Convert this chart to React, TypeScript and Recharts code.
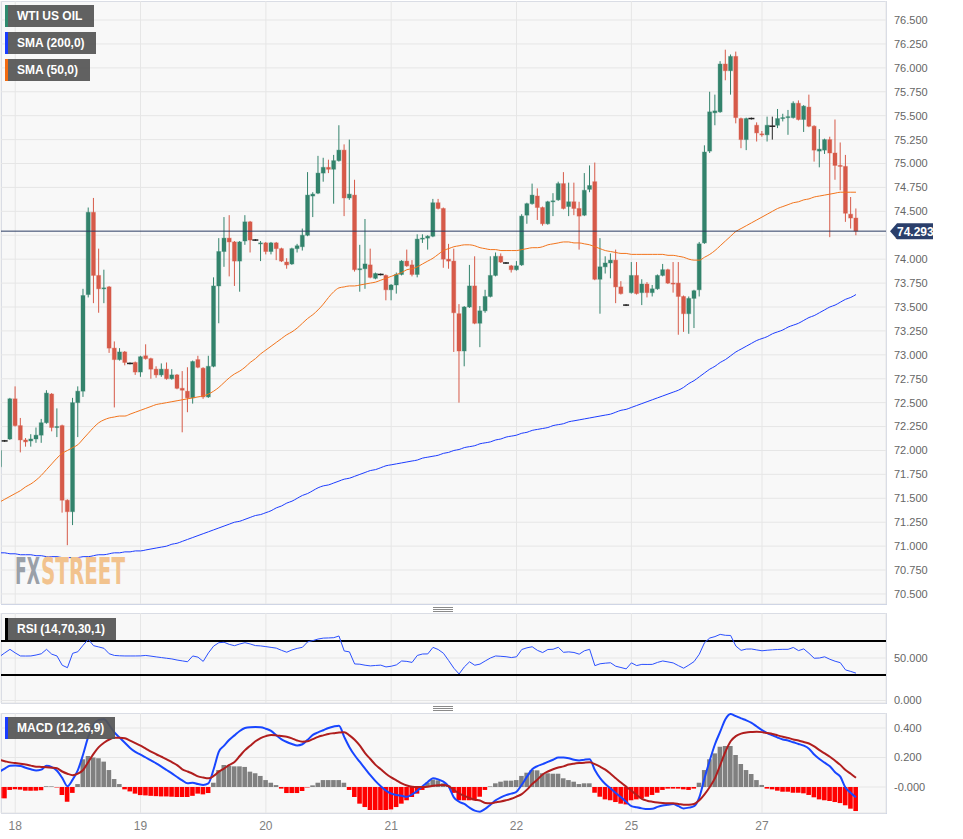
import React from 'react';
import { ComposedChart, Bar, Line, XAxis, YAxis, CartesianGrid, ReferenceLine, Cell } from 'recharts';

// hourly candles, index 0..164
const OPEN = [
  71.83, 72.10, 72.12, 72.54, 72.26, 72.11, 72.10, 72.12, 72.16, 72.29,
  72.59, 72.24, 72.26, 71.48, 71.36, 72.50, 72.62, 73.63, 74.49, 73.83,
  73.69, 73.71, 73.07, 72.95, 73.03, 72.91, 72.92, 72.82, 72.99, 72.96,
  72.85, 72.79, 72.85, 72.75, 72.79, 72.65, 72.62, 72.55, 72.95, 72.86,
  72.56, 72.88, 73.72, 74.08, 74.22, 74.18, 73.98, 74.19, 74.39, 74.20,
  74.16, 74.17, 74.08, 74.17, 74.11, 73.97, 73.95, 74.11, 74.13, 74.25,
  74.66, 74.69, 74.90, 74.96, 74.94, 75.03, 75.14, 74.64, 74.67, 73.89,
  73.90, 73.94, 73.80, 73.84, 73.83, 73.68, 73.73, 73.84, 73.98, 73.94,
  73.84, 74.21, 74.22, 74.24, 74.59, 74.53, 74.00, 73.98, 73.43, 73.04,
  73.50, 73.72, 73.33, 73.46, 73.61, 73.83, 74.03, 73.96, 73.93, 73.89,
  73.94, 74.46, 74.58, 74.66, 74.54, 74.37, 74.60, 74.62, 74.79, 74.55,
  74.60, 74.53, 74.46, 74.73, 74.81, 73.79, 73.92, 73.96, 73.99, 73.71,
  73.52, 73.65, 73.83, 73.65, 73.74, 73.65, 73.69, 73.83, 73.89, 73.75,
  73.75, 73.61, 73.43, 73.59, 73.68, 74.17, 75.13, 75.53, 75.54, 76.04,
  75.97, 76.12, 75.47, 75.25, 75.47, 75.40, 75.31, 75.30, 75.39, 75.40,
  75.47, 75.48, 75.48, 75.63, 75.46, 75.59, 75.39, 75.13, 75.14, 75.25,
  75.11, 74.98, 74.97, 74.47, 74.43,
];
const HIGH = [
  72.04, 72.11, 72.55, 72.67, 72.34, 72.13, 72.17, 72.24, 72.33, 72.63,
  72.60, 72.44, 72.27, 71.49, 72.55, 72.67, 73.69, 74.54, 74.64, 74.11,
  73.89, 73.72, 73.14, 73.07, 73.04, 72.92, 72.93, 72.99, 73.11, 72.97,
  72.88, 72.91, 72.92, 72.85, 72.80, 72.83, 72.87, 72.94, 72.99, 72.87,
  72.99, 73.81, 74.22, 74.44, 74.46, 74.19, 74.19, 74.46, 74.40, 74.21,
  74.19, 74.18, 74.18, 74.18, 74.12, 74.01, 74.12, 74.16, 74.32, 74.91,
  74.70, 75.08, 75.06, 75.04, 75.09, 75.40, 75.20, 75.25, 74.83, 74.15,
  74.42, 74.11, 73.86, 73.85, 73.84, 73.74, 73.86, 73.99, 74.10, 73.99,
  74.26, 74.26, 74.25, 74.63, 74.63, 74.54, 74.16, 74.11, 73.53, 73.51,
  73.94, 74.03, 73.51, 73.68, 74.03, 74.07, 74.06, 73.97, 73.94, 73.98,
  74.47, 74.59, 74.79, 74.74, 74.55, 74.61, 74.69, 74.81, 74.91, 74.80,
  74.80, 74.60, 74.90, 74.98, 75.01, 74.22, 74.03, 74.06, 74.10, 73.77,
  73.53, 73.97, 73.97, 73.79, 73.76, 73.73, 73.84, 73.95, 73.90, 73.97,
  73.97, 73.62, 73.61, 73.68, 74.18, 75.19, 75.75, 75.72, 76.07, 76.19,
  76.14, 76.17, 75.48, 75.48, 75.48, 75.43, 75.34, 75.49, 75.49, 75.57,
  75.52, 75.56, 75.65, 75.66, 75.61, 75.72, 75.40, 75.36, 75.26, 75.28,
  75.46, 75.22, 75.09, 74.65, 74.53,
];
const LOW = [
  71.74, 72.09, 72.11, 72.25, 71.98, 72.04, 72.04, 72.08, 72.08, 72.28,
  72.20, 72.14, 71.35, 71.01, 71.22, 72.14, 72.56, 73.60, 73.54, 73.44,
  73.54, 73.02, 72.45, 72.94, 72.89, 72.90, 72.79, 72.77, 72.95, 72.75,
  72.76, 72.77, 72.74, 72.74, 72.64, 72.19, 72.40, 72.49, 72.86, 72.54,
  72.55, 72.87, 73.33, 73.92, 73.82, 73.72, 73.66, 74.15, 74.07, 74.19,
  73.98, 74.05, 74.05, 73.99, 73.97, 73.90, 73.94, 74.07, 74.09, 74.24,
  74.44, 74.68, 74.81, 74.90, 74.58, 75.02, 74.45, 74.62, 73.87, 73.66,
  73.69, 73.80, 73.79, 73.83, 73.57, 73.57, 73.64, 73.83, 73.92, 73.82,
  73.81, 74.17, 74.10, 74.23, 74.52, 73.91, 73.90, 73.03, 72.50, 72.88,
  73.49, 73.32, 73.08, 73.44, 73.60, 73.82, 73.96, 73.95, 73.86, 73.88,
  73.93, 74.37, 74.57, 74.41, 74.35, 74.36, 74.45, 74.61, 74.52, 74.45,
  74.46, 74.10, 74.45, 74.70, 73.78, 73.43, 73.85, 73.80, 73.54, 73.63,
  73.51, 73.64, 73.63, 73.52, 73.60, 73.61, 73.68, 73.82, 73.74, 73.65,
  73.21, 73.24, 73.22, 73.28, 73.61, 74.16, 75.11, 75.40, 75.53, 75.87,
  75.72, 75.42, 75.16, 75.14, 75.46, 75.23, 75.28, 75.23, 75.25, 75.37,
  75.44, 75.30, 75.47, 75.45, 75.33, 75.38, 75.02, 74.96, 75.10, 74.23,
  74.83, 74.72, 74.39, 74.32, 74.25,
];
const CLOSE = [
  72.00, 72.10, 72.54, 72.26, 72.11, 72.09, 72.12, 72.16, 72.29, 72.60,
  72.24, 72.25, 71.48, 71.36, 72.50, 72.62, 73.62, 74.49, 73.83, 73.69,
  73.70, 73.07, 72.95, 73.03, 72.92, 72.91, 72.82, 72.98, 72.96, 72.85,
  72.79, 72.85, 72.75, 72.79, 72.65, 72.63, 72.55, 72.93, 72.87, 72.56,
  72.88, 73.72, 74.08, 74.22, 74.18, 73.98, 74.18, 74.39, 74.20, 74.20,
  74.17, 74.08, 74.17, 74.11, 73.98, 73.94, 74.11, 74.14, 74.25, 74.67,
  74.68, 74.90, 74.96, 74.94, 75.03, 75.14, 74.64, 74.68, 73.89, 73.90,
  73.95, 73.81, 73.85, 73.84, 73.68, 73.73, 73.84, 73.98, 73.93, 73.84,
  74.21, 74.22, 74.24, 74.59, 74.53, 74.00, 73.98, 73.44, 73.04, 73.50,
  73.72, 73.33, 73.46, 73.61, 73.83, 74.03, 73.97, 73.96, 73.89, 73.93,
  74.45, 74.58, 74.67, 74.54, 74.37, 74.60, 74.61, 74.79, 74.53, 74.60,
  74.53, 74.45, 74.72, 74.77, 73.79, 73.92, 73.96, 73.99, 73.71, 73.64,
  73.52, 73.83, 73.64, 73.74, 73.65, 73.69, 73.83, 73.89, 73.75, 73.74,
  73.61, 73.43, 73.59, 73.67, 74.16, 75.12, 75.54, 75.55, 76.04, 75.97,
  76.12, 75.48, 75.25, 75.47, 75.47, 75.32, 75.30, 75.40, 75.39, 75.47,
  75.48, 75.49, 75.63, 75.46, 75.60, 75.39, 75.14, 75.15, 75.25, 75.11,
  74.98, 74.97, 74.48, 74.43, 74.293,
];
const SMA50 = [
  71.46, 71.49, 71.52, 71.55, 71.58, 71.62, 71.65, 71.69, 71.74, 71.80,
  71.86, 71.92, 71.97, 72.00, 72.03, 72.06, 72.12, 72.18, 72.24, 72.29,
  72.32, 72.34, 72.35, 72.36, 72.36, 72.38, 72.40, 72.42, 72.44, 72.46,
  72.48, 72.49, 72.50, 72.51, 72.52, 72.53, 72.54, 72.55, 72.56, 72.57,
  72.59, 72.62, 72.66, 72.71, 72.76, 72.80, 72.83, 72.87, 72.92, 72.96,
  73.01, 73.05, 73.09, 73.13, 73.17, 73.21, 73.24, 73.28, 73.33, 73.38,
  73.42, 73.47, 73.53, 73.60, 73.66, 73.70, 73.71, 73.72, 73.72, 73.73,
  73.74, 73.75, 73.76, 73.78, 73.80, 73.82, 73.84, 73.86, 73.89, 73.90,
  73.92, 73.95, 73.98, 74.01, 74.05, 74.09, 74.11, 74.13, 74.14, 74.15,
  74.15, 74.14, 74.12, 74.11, 74.10, 74.10, 74.09, 74.09, 74.09, 74.09,
  74.10, 74.11, 74.12, 74.12, 74.13, 74.15, 74.16, 74.17, 74.18, 74.18,
  74.17, 74.17, 74.16, 74.15, 74.13, 74.11, 74.09, 74.08, 74.07, 74.06,
  74.06, 74.05, 74.05, 74.05, 74.05, 74.05, 74.05, 74.05, 74.04, 74.04,
  74.03, 74.02, 74.00, 73.99, 73.99, 74.02, 74.05, 74.09, 74.14, 74.19,
  74.24, 74.29, 74.32, 74.35, 74.38, 74.41, 74.44, 74.47, 74.50, 74.53,
  74.55, 74.57, 74.59, 74.60, 74.62, 74.63, 74.65, 74.66, 74.67, 74.68,
  74.69, 74.70, 74.70, 74.70, 74.70,
];
const SMA200 = [
  70.93, 70.93, 70.92, 70.92, 70.91, 70.91, 70.91, 70.90, 70.90, 70.89,
  70.89, 70.89, 70.88, 70.88, 70.88, 70.88, 70.89, 70.89, 70.90, 70.91,
  70.91, 70.92, 70.93, 70.93, 70.94, 70.94, 70.95, 70.95, 70.96, 70.97,
  70.98, 70.99, 71.00, 71.02, 71.03, 71.05, 71.07, 71.09, 71.11, 71.13,
  71.15, 71.17, 71.19, 71.21, 71.23, 71.25, 71.26, 71.28, 71.30, 71.32,
  71.33, 71.35, 71.37, 71.40, 71.42, 71.45, 71.47, 71.50, 71.53, 71.55,
  71.58, 71.61, 71.63, 71.64, 71.66, 71.68, 71.70, 71.71, 71.73, 71.75,
  71.77, 71.79, 71.80, 71.82, 71.84, 71.85, 71.86, 71.87, 71.88, 71.89,
  71.90, 71.92, 71.93, 71.94, 71.95, 71.97, 71.98, 72.00, 72.01, 72.03,
  72.04, 72.05, 72.07, 72.08, 72.09, 72.11, 72.12, 72.14, 72.15, 72.16,
  72.18, 72.19, 72.21, 72.22, 72.23, 72.24, 72.26, 72.27, 72.28, 72.30,
  72.31, 72.32, 72.33, 72.34, 72.35, 72.36, 72.37, 72.38, 72.40, 72.42,
  72.43, 72.45, 72.47, 72.49, 72.51, 72.53, 72.55, 72.57, 72.59, 72.61,
  72.63, 72.66, 72.70, 72.73, 72.77, 72.81, 72.85, 72.88, 72.92, 72.95,
  72.99, 73.03, 73.06, 73.09, 73.12, 73.15, 73.17, 73.19, 73.22, 73.24,
  73.26, 73.29, 73.31, 73.33, 73.36, 73.39, 73.41, 73.44, 73.47, 73.50,
  73.52, 73.55, 73.58, 73.60, 73.63,
];
const RSI = [
  51.6, 56, 60.2, 56, 52.4, 52.3, 52.4, 53.5, 55, 60.2,
  54.5, 52.4, 41.5, 38.6, 55.5, 57.4, 65, 72, 64.5, 63,
  61.4, 55, 53, 52.6, 52.4, 52.4, 52.4, 52.5, 53, 52.2,
  51.3, 50.5, 49.7, 48.9, 47.6, 46.6, 45.6, 52.4, 51, 46,
  56, 64, 68, 68.5, 66, 64.5, 66.5, 68, 66.5, 64.6,
  64.2, 63.4, 62.5, 61.6, 59, 56.8, 59.5, 61.3, 62.6, 69,
  70.5, 72.3, 73.4, 73.6, 73.9, 75.9, 58.3, 57.2, 43, 42.7,
  41.5, 40.7, 41.2, 41.6, 39.5, 40.3, 41.9, 46.5, 46, 44.8,
  53, 54.7, 54.8, 62.5, 60, 55.6, 47, 38, 31.2, 39.5,
  45.5, 41.5, 42.8, 46.5, 50, 52.4, 52, 51.5, 50.5, 51.4,
  60, 62, 63.2, 59, 56.4, 60, 60.3, 62.6, 56.7, 57.2,
  56.5, 54.5, 58.5, 60.2, 41, 43.2, 43.9, 44.4, 40.3, 38.8,
  37.2, 44.3, 41.1, 42.5, 42.4, 42.5, 44.8, 46.5, 45.4, 44.2,
  41, 38, 41.7, 45.8, 54.5, 68, 73.5, 75.2, 77.8, 76.7,
  76.5, 64, 59, 60.5, 60.6, 59.5, 58.5, 59.1, 59.6, 60,
  60.2, 60.2, 62.4, 58.7, 60.7, 55.5, 49.7, 50, 51.4, 48.5,
  46.2, 44.5, 36, 34.2, 32.2,
];
const MACD = [
  0.104, 0.125, 0.144, 0.145, 0.143, 0.130, 0.120, 0.112, 0.118, 0.144,
  0.135, 0.110, 0.062, 0.005, 0.050, 0.115, 0.22, 0.341, 0.42, 0.455,
  0.46, 0.42, 0.37, 0.335, 0.30, 0.265, 0.238, 0.22, 0.20, 0.18,
  0.16, 0.138, 0.115, 0.092, 0.068, 0.045, 0.025, 0.029, 0.02, 0.014,
  0.025, 0.12, 0.24, 0.28, 0.32, 0.35, 0.38, 0.40, 0.405, 0.406,
  0.405, 0.395, 0.38, 0.35, 0.323, 0.305, 0.292, 0.282, 0.29, 0.32,
  0.353, 0.37, 0.385, 0.40, 0.41, 0.416, 0.34, 0.27, 0.215, 0.17,
  0.125, 0.08, 0.04, 0.005, -0.025, -0.045, -0.054, -0.06, -0.066, -0.05,
  -0.025, 0.005, 0.034, 0.06, 0.052, 0.036, 0.004, -0.07, -0.1, -0.115,
  -0.14, -0.16, -0.167, -0.148, -0.12, -0.09, -0.07, -0.055, -0.045, -0.032,
  0.015, 0.07, 0.12, 0.142, 0.155, 0.17, 0.185, 0.2, 0.2, 0.195,
  0.185, 0.18, 0.185, 0.188, 0.115, 0.06, 0.02, -0.01, -0.04, -0.07,
  -0.10, -0.13, -0.138, -0.145, -0.15, -0.148, -0.135, -0.125, -0.12, -0.115,
  -0.13, -0.145, -0.14, -0.13, -0.07, 0.06, 0.18, 0.29, 0.375, 0.46,
  0.495, 0.48, 0.465, 0.452, 0.435, 0.41, 0.386, 0.365, 0.35, 0.335,
  0.322, 0.315, 0.303, 0.292, 0.28, 0.26, 0.22, 0.19, 0.165, 0.14,
  0.10, 0.07, -0.005, -0.04, -0.07,
];
const SIGNAL = [
  0.183, 0.175, 0.167, 0.162, 0.157, 0.152, 0.145, 0.138, 0.136, 0.134,
  0.131, 0.127, 0.105, 0.09, 0.08, 0.09, 0.115, 0.17, 0.225, 0.27,
  0.30, 0.322, 0.334, 0.334, 0.330, 0.315, 0.298, 0.28, 0.26, 0.24,
  0.222, 0.205, 0.188, 0.168, 0.148, 0.12, 0.105, 0.09, 0.072, 0.064,
  0.059, 0.075, 0.104, 0.125, 0.15, 0.17, 0.21, 0.25, 0.28, 0.31,
  0.332, 0.345, 0.353, 0.35, 0.345, 0.34, 0.33, 0.315, 0.307, 0.31,
  0.325, 0.34, 0.35, 0.36, 0.365, 0.37, 0.372, 0.35, 0.32, 0.28,
  0.23, 0.19, 0.15, 0.12, 0.09, 0.065, 0.045, 0.025, 0.01, 0.002,
  0.0, 0.0, 0.002, 0.008, 0.012, 0.014, 0.005, -0.02, -0.043, -0.06,
  -0.075, -0.086, -0.092, -0.108, -0.11, -0.104, -0.098, -0.09, -0.08, -0.065,
  -0.048, -0.018, 0.02, 0.05, 0.085, 0.105, 0.12, 0.132, 0.14, 0.152,
  0.158, 0.162, 0.165, 0.167, 0.155, 0.138, 0.118, 0.09, 0.06, 0.03,
  0.002, -0.025, -0.054, -0.08, -0.093, -0.1, -0.105, -0.108, -0.11, -0.111,
  -0.115, -0.12, -0.12, -0.115, -0.09, -0.05, 0.0, 0.06, 0.149, 0.239,
  0.31, 0.345, 0.362, 0.37, 0.373, 0.375, 0.372, 0.366, 0.36, 0.35,
  0.341, 0.333, 0.322, 0.315, 0.305, 0.295, 0.275, 0.25, 0.228, 0.205,
  0.178, 0.15, 0.115, 0.09, 0.063,
];
const HIST = [
  -0.077, -0.077, -0.02, -0.016, -0.018, -0.025, -0.025, -0.025, -0.022, 0.005,
  0.004, -0.003, -0.054, -0.10, -0.04, 0.02, 0.188, 0.21, 0.2, 0.195,
  0.172, 0.115, 0.054, 0.02, -0.016, -0.03, -0.045, -0.055, -0.057, -0.06,
  -0.062, -0.064, -0.064, -0.066, -0.068, -0.068, -0.068, -0.06, -0.045, -0.05,
  -0.041, 0.029, 0.115, 0.149, 0.145, 0.14, 0.14, 0.136, 0.104, 0.093,
  0.075, 0.047, 0.029, 0.013, -0.011, -0.041, -0.041, -0.041, -0.027, -0.003,
  0.011, 0.029, 0.047, 0.047, 0.047, 0.047, 0.029, -0.02, -0.068, -0.113,
  -0.136, -0.156, -0.156, -0.156, -0.156, -0.152, -0.136, -0.113, -0.09, -0.068,
  -0.045, -0.02, 0.03, 0.05, 0.045, 0.025, 0.01, -0.04, -0.09, -0.09,
  -0.09, -0.09, -0.066, -0.02, 0.004, 0.025, 0.036, 0.043, 0.043, 0.047,
  0.075, 0.097, 0.115, 0.113, 0.093, 0.093, 0.09, 0.09, 0.059, 0.047,
  0.036, 0.02, 0.025, 0.025, -0.039, -0.066, -0.084, -0.09, -0.102, -0.113,
  -0.118, -0.09, -0.084, -0.077, -0.066, -0.054, -0.039, -0.02, -0.011, -0.011,
  -0.011, -0.016, -0.02, -0.011, 0.029, 0.115, 0.188, 0.228, 0.273, 0.278,
  0.278, 0.217, 0.156, 0.115, 0.088, 0.047, 0.014, -0.011, -0.016, -0.025,
  -0.032, -0.032, -0.039, -0.039, -0.043, -0.054, -0.07, -0.084, -0.09, -0.095,
  -0.102, -0.109, -0.124, -0.147, -0.163,
];

const DAY_TICKS = [3, 27, 51, 75, 99, 121, 146];
const DAY_LABELS = ['18', '19', '20', '21', '22', '25', '27'];
const PRICE_TICKS = [
  70.5, 70.75, 71, 71.25, 71.5, 71.75, 72, 72.25, 72.5, 72.75, 73, 73.25, 73.5,
  73.75, 74, 74.25, 74.5, 74.75, 75, 75.25, 75.5, 75.75, 76, 76.25, 76.5,
];
const RSI_TICKS = [0, 50];
const MACD_TICKS = [0, 0.2, 0.4];
const LAST_PRICE = 74.293;

const X_DOMAIN = [0.28, 169.75];
const PRICE_DOMAIN = [70.395, 76.699];
const FONT = '"Liberation Sans", Arial, sans-serif';
const GREEN = '#33836c';
const RED = '#d65a49';
const GRID = '#e6e6e6';
const BORDER = '#cfd5e5';

const rows = OPEN.map((o, i) => ({
  i,
  open: o,
  high: HIGH[i],
  low: LOW[i],
  close: CLOSE[i],
  range: [LOW[i], HIGH[i]],
  sma50: SMA50[i],
  sma200: SMA200[i],
  rsi: RSI[i],
  macd: MACD[i],
  signal: SIGNAL[i],
  hist: HIST[i],
}));

const Candle = (props: any) => {
  const { x, y, width, height, payload } = props;
  if (x == null || y == null) return null;
  const { open, close, high, low } = payload;
  const top = Math.min(y, y + height);
  const h = Math.abs(height);
  const k = high > low ? h / (high - low) : 0;
  const cx = x + width / 2;
  const yO = top + (high - open) * k;
  const yC = top + (high - close) * k;
  const up = close > open;
  const down = close < open;
  if (!up && !down) {
    return (
      <g>
        <line x1={cx} x2={cx} y1={top} y2={top + h} stroke="#222" strokeWidth={1} />
        <line x1={x - 0.5} x2={x + width + 0.5} y1={yO} y2={yO} stroke="#222" strokeWidth={1.5} />
      </g>
    );
  }
  const color = up ? GREEN : RED;
  const bTop = Math.min(yO, yC);
  const bH = Math.max(Math.abs(yC - yO), 1);
  return (
    <g>
      <line x1={cx} x2={cx} y1={top} y2={top + h} stroke={color} strokeWidth={1} />
      <rect x={x + 0.5} y={bTop} width={width - 1} height={bH} fill={color} stroke={color} strokeOpacity={0.35} strokeWidth={1} />
    </g>
  );
};

const PriceTag = (props: any) => {
  const vb = props.viewBox;
  if (!vb) return null;
  const x = vb.x + vb.width + 4;
  const y = vb.y;
  return (
    <g>
      <polygon
        points={`${x},${y} ${x + 7},${y - 8} ${x + 43},${y - 8} ${x + 43},${y + 8} ${x + 7},${y + 8}`}
        fill="#2b3f6b"
      />
      <text x={x + 7} y={y + 4.5} fill="#fff" fontSize={12} fontWeight="bold" fontFamily={FONT}>
        {LAST_PRICE.toFixed(3)}
      </text>
    </g>
  );
};

const LegendBox = ({ top, width, color, text }: { top: number; width: number; color: string; text: string }) => (
  <div
    style={{
      position: 'absolute',
      left: 5,
      top,
      width,
      height: 22,
      background: 'rgba(85,85,85,0.93)',
      borderLeft: `3px solid ${color}`,
      boxSizing: 'border-box',
      color: '#fff',
      fontSize: 12,
      fontWeight: 'bold',
      lineHeight: '22px',
      paddingLeft: 9,
      fontFamily: FONT,
      whiteSpace: 'nowrap',
    }}
  >
    {text}
  </div>
);

const Handle = ({ top }: { top: number }) => (
  <div style={{ position: 'absolute', left: 433, top, width: 20 }}>
    {[0, 1, 2].map((k) => (
      <div key={k} style={{ height: 1, background: '#8a8a8a', marginBottom: 1 }} />
    ))}
  </div>
);

const Panel = ({ top, height }: { top: number; height: number }) => (
  <div
    style={{
      position: 'absolute',
      left: 1,
      top,
      width: 886,
      height,
      background: '#f8f8f8',
      border: `1px solid ${BORDER}`,
      boxSizing: 'border-box',
    }}
  />
);

const axisTick = { fill: '#666', fontSize: 11, fontFamily: FONT };
const WM_FONT = '"DejaVu Sans Condensed", "Liberation Sans Narrow", sans-serif';

export default function App() {
  return (
    <div style={{ position: 'relative', width: 963, height: 839, background: '#fff', fontFamily: FONT, overflow: 'hidden' }}>
      <style>{'body{margin:0}'}</style>
      <Panel top={1} height={604} />
      <Panel top={613} height={91} />
      <Panel top={713} height={101} />

      {/* price panel */}
      <div style={{ position: 'absolute', left: 0, top: 1 }}>
        <ComposedChart width={963} height={603} data={rows} margin={{ top: 0, right: 0, bottom: 0, left: 1 }}>
          <CartesianGrid stroke={GRID} />
          <XAxis type="number" dataKey="i" domain={X_DOMAIN} ticks={DAY_TICKS} allowDataOverflow hide />
          <YAxis
            orientation="right"
            width={77}
            domain={PRICE_DOMAIN}
            allowDataOverflow
            ticks={PRICE_TICKS}
            interval={0}
            tickFormatter={(v: number) => v.toFixed(3)}
            axisLine={false}
            tickLine={false}
            tick={axisTick}
          />
          <Bar dataKey="range" barSize={5} shape={<Candle />} isAnimationActive={false} />
          <Line type="monotone" dataKey="sma200" stroke="#1c3cff" strokeWidth={1} dot={false} isAnimationActive={false} />
          <Line type="monotone" dataKey="sma50" stroke="#f2741c" strokeWidth={1} dot={false} isAnimationActive={false} />
          <ReferenceLine y={LAST_PRICE} stroke="#2b3b63" strokeWidth={1} />
        </ComposedChart>
      </div>

      {/* last price tag, drawn over the axis labels */}
      <div style={{ position: 'absolute', left: 0, top: 1 }}>
        <ComposedChart width={963} height={603} data={rows} margin={{ top: 0, right: 77, bottom: 0, left: 1 }}>
          <XAxis type="number" dataKey="i" domain={X_DOMAIN} allowDataOverflow hide />
          <YAxis domain={PRICE_DOMAIN} allowDataOverflow hide />
          <ReferenceLine y={LAST_PRICE} stroke="none" label={<PriceTag />} />
        </ComposedChart>
      </div>

      {/* RSI panel */}
      <div style={{ position: 'absolute', left: 0, top: 613 }}>
        <ComposedChart width={963} height={97} data={rows} margin={{ top: 0, right: 0, bottom: 7, left: 1 }}>
          <CartesianGrid stroke={GRID} />
          <XAxis type="number" dataKey="i" domain={X_DOMAIN} ticks={DAY_TICKS} allowDataOverflow hide />
          <YAxis
            orientation="right"
            width={77}
            domain={[-2.94, 102.94]}
            allowDataOverflow
            ticks={RSI_TICKS}
            interval={0}
            tickFormatter={(v: number) => v.toFixed(3)}
            axisLine={false}
            tickLine={false}
            tick={axisTick}
          />
          <ReferenceLine y={70} stroke="#000" strokeWidth={2} />
          <ReferenceLine y={30} stroke="#000" strokeWidth={2} />
          <Line type="linear" dataKey="rsi" stroke="#2b50ff" strokeWidth={1} dot={false} isAnimationActive={false} />
        </ComposedChart>
      </div>

      {/* MACD panel */}
      <div style={{ position: 'absolute', left: 0, top: 713 }}>
        <ComposedChart width={963} height={126} data={rows} margin={{ top: 0, right: 0, bottom: 0, left: 1 }}>
          <CartesianGrid stroke={GRID} />
          <XAxis
            type="number"
            dataKey="i"
            domain={X_DOMAIN}
            ticks={DAY_TICKS}
            allowDataOverflow
            height={26}
            interval={0}
            axisLine={false}
            tickLine={false}
            tick={{ fill: '#808080', fontSize: 12, fontFamily: FONT }}
            tickFormatter={(v: number) => DAY_LABELS[DAY_TICKS.indexOf(v)] ?? ''}
          />
          <YAxis
            orientation="right"
            width={77}
            domain={[-0.1763, 0.5017]}
            allowDataOverflow
            ticks={MACD_TICKS}
            interval={0}
            tickFormatter={(v: number) => (v === 0 ? '-0.000' : v.toFixed(3))}
            axisLine={false}
            tickLine={false}
            tick={axisTick}
          />
          <Bar dataKey="hist" barSize={4.6} isAnimationActive={false}>
            {rows.map((r) => (
              <Cell key={r.i} fill={r.hist >= 0 ? '#808080' : '#ff0000'} />
            ))}
          </Bar>
          <Line type="monotone" dataKey="macd" stroke="#1846ff" strokeWidth={2} dot={false} isAnimationActive={false} />
          <Line type="monotone" dataKey="signal" stroke="#b01e1e" strokeWidth={2} dot={false} isAnimationActive={false} />
        </ComposedChart>
      </div>

      <LegendBox top={5} width={89} color="#2f8a6e" text="WTI US OIL" />
      <LegendBox top={32} width={91} color="#1a3cff" text="SMA (200,0)" />
      <LegendBox top={59} width={85} color="#f26a10" text="SMA (50,0)" />
      <LegendBox top={618} width={111} color="#000" text="RSI (14,70,30,1)" />
      <LegendBox top={717} width={110} color="#1a3cff" text="MACD (12,26,9)" />

      <Handle top={607} />
      <Handle top={706} />

      <svg style={{ position: 'absolute', left: 13, top: 550, overflow: 'visible' }} width={130} height={40}>
        <text x={2} y={34} fontSize={37} fontWeight="bold" textLength={25} lengthAdjust="spacingAndGlyphs" fontFamily={WM_FONT} fill="#9aa0a8">
          FX
        </text>
        <text x={28} y={34} fontSize={37} fontWeight="bold" textLength={84} lengthAdjust="spacingAndGlyphs" fontFamily={WM_FONT} fill="#f2c38e">
          STREET
        </text>
      </svg>
    </div>
  );
}
